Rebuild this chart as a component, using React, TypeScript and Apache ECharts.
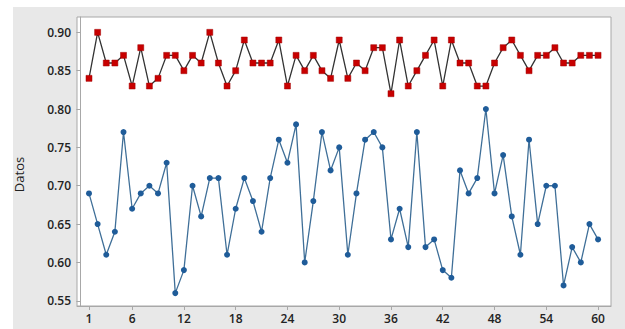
import React, { useEffect, useRef } from "react";
import * as echarts from "echarts";

const redValues = [0.84,0.90,0.86,0.86,0.87,0.83,0.88,0.83,0.84,0.87,0.87,0.85,0.87,0.86,0.90,0.86,0.83,0.85,0.89,0.86,0.86,0.86,0.89,0.83,0.87,0.85,0.87,0.85,0.84,0.89,0.84,0.86,0.85,0.88,0.88,0.82,0.89,0.83,0.85,0.87,0.89,0.83,0.89,0.86,0.86,0.83,0.83,0.86,0.88,0.89,0.87,0.85,0.87,0.87,0.88,0.86,0.86,0.87,0.87,0.87];
const blueValues = [0.69,0.65,0.61,0.64,0.77,0.67,0.69,0.70,0.69,0.73,0.56,0.59,0.70,0.66,0.71,0.71,0.61,0.67,0.71,0.68,0.64,0.71,0.76,0.73,0.78,0.60,0.68,0.77,0.72,0.75,0.61,0.69,0.76,0.77,0.75,0.63,0.67,0.62,0.77,0.62,0.63,0.59,0.58,0.72,0.69,0.71,0.80,0.69,0.74,0.66,0.61,0.76,0.65,0.70,0.70,0.57,0.62,0.60,0.65,0.63];
const xTicks = [1, 6, 12, 18, 24, 30, 36, 42, 48, 54, 60];
const yTicks = [0.55, 0.6, 0.65, 0.7, 0.75, 0.8, 0.85, 0.9];
const yTitle = "Datos";

export default function App() {
  const ref = useRef<HTMLDivElement>(null);
  useEffect(() => {
    if (!ref.current) return;
    const chart = echarts.init(ref.current, null, { renderer: "svg" });
    const font = "'Open Sans', 'Noto Sans', sans-serif";
    chart.setOption({
      animation: false,
      backgroundColor: "#ffffff",
      graphic: [
        { type: "rect", z: -100, silent: true, shape: { x: 13, y: 7, width: 612, height: 322 }, style: { fill: "#e8e8e8" } },
      ],
      grid: {
        left: 77, top: 17, right: 14, bottom: 23, outerBoundsMode: "none", containLabel: false,
        show: true, backgroundColor: "#ffffff", borderColor: "#a8a8a8", borderWidth: 1,
      },
      xAxis: {
        type: "value", min: -0.39, max: 61.5,
        axisLine: { show: true, lineStyle: { color: "#a8a8a8" } },
        axisTick: { show: true, length: 4, lineStyle: { color: "#a8a8a8" }, customValues: xTicks },
        axisLabel: { color: "#222", fontSize: 12, fontWeight: 600, fontFamily: font, margin: 6, customValues: xTicks },
        splitLine: { show: false },
      },
      yAxis: {
        type: "value", min: 0.5432, max: 0.92,
        name: yTitle, nameLocation: "middle", nameRotate: 90, nameGap: 52,
        nameTextStyle: { color: "#222", fontSize: 13, fontFamily: font, padding: [0, 26, 0, 0] },
        axisLine: { show: true, lineStyle: { color: "#a8a8a8" } },
        axisTick: { show: true, length: 4, lineStyle: { color: "#a8a8a8" }, customValues: yTicks },
        axisLabel: {
          color: "#222", fontSize: 12, fontWeight: 600, fontFamily: font, margin: 6, customValues: yTicks,
          formatter: (v: number) => v.toFixed(2),
        },
        splitLine: { show: false },
      },
      series: [
        {
          type: "line",
          data: redValues.map((v, i) => [i + 1, v]),
          symbol: "rect", symbolSize: 6,
          itemStyle: { color: "#c80000", borderColor: "#a00000", borderWidth: 0.5 },
          lineStyle: { color: "#333333", width: 1.3 },
        },
        {
          type: "line",
          data: blueValues.map((v, i) => [i + 1, v]),
          symbol: "circle", symbolSize: 6,
          itemStyle: { color: "#1f5c99" },
          lineStyle: { color: "#3f6f98", width: 1.3 },
        },
      ],
    });
    return () => chart.dispose();
  }, []);
  return (
    <div ref={ref} style={{ position: "fixed", left: 0, top: 0, width: 625, height: 329 }} />
  );
}
